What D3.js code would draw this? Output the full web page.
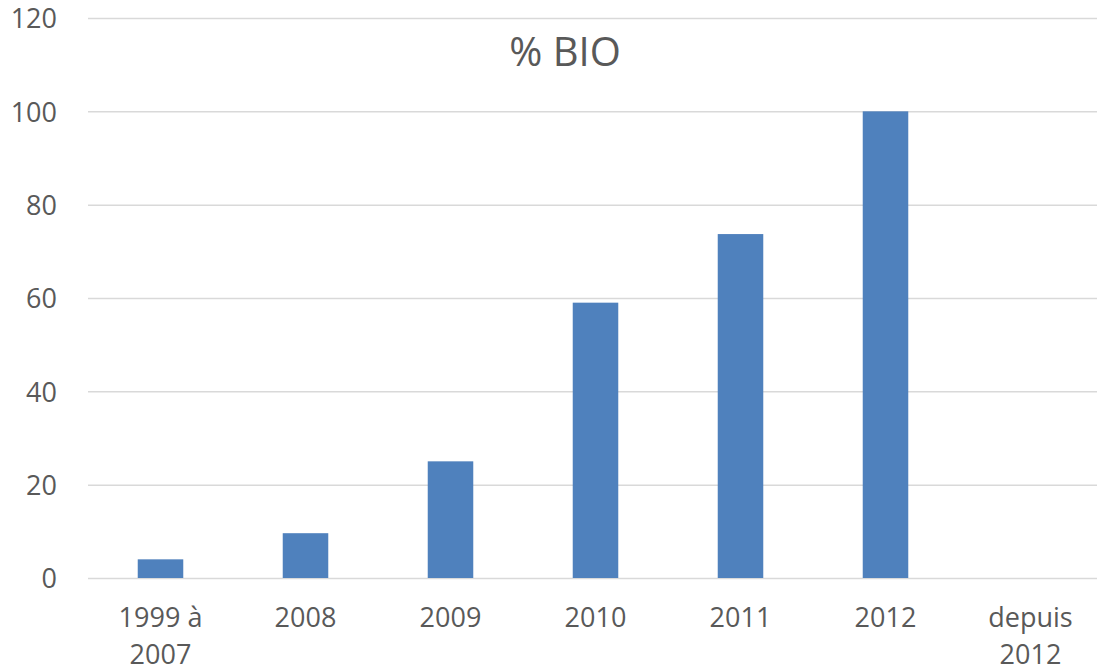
<!DOCTYPE html>
<html><head><meta charset="utf-8">
<script src="https://cdn.jsdelivr.net/npm/d3@7"></script>
<style>body{margin:0;background:#fff}svg{display:block}text{font-family:"Open Sans",sans-serif;fill:#595959}</style>
</head><body><svg id="c" width="1097" height="672"></svg>
<script>
const categories = [["1999 à","2007"],["2008"],["2009"],["2010"],["2011"],["2012"],["depuis","2012"]];
const values = [4, 9.6, 25, 59, 73.7, 100, null];
const yTicks = [0,20,40,60,80,100,120];
const title = "% BIO";

const svg = d3.select("#c");
const keys = categories.map((c,i)=>i);
const x = d3.scaleBand().domain(keys).range([88,1103]).paddingInner(0.686).paddingOuter(0.343);
const y = d3.scaleLinear().domain([0,120]).range([578,18]);

const yAxis = svg.append("g").attr("transform","translate(88,0)")
  .call(d3.axisLeft(y).tickValues(yTicks).tickSize(-1015).tickPadding(31));
yAxis.select(".domain").remove();
yAxis.selectAll(".tick line").attr("stroke","#d9d9d9").attr("stroke-width",1.5);
yAxis.selectAll(".tick text").attr("font-size",27).attr("fill","#595959").attr("dy","0.36em").style("font-family","'Open Sans',sans-serif");

svg.append("g").selectAll("rect").data(values.map((v,i)=>({v,i})).filter(d=>d.v!=null))
  .join("rect").attr("x",d=>x(d.i)).attr("width",x.bandwidth())
  .attr("y",d=>y(d.v)).attr("height",d=>y(0)-y(d.v)).attr("fill","#4f81bd");

const xl = svg.append("g");
categories.forEach((lines,i)=>{
  const t = xl.append("text").attr("text-anchor","middle").attr("font-size",27)
    .attr("x", x(i)+x.bandwidth()/2).attr("y",627);
  lines.forEach((s,j)=>t.append("tspan").attr("x",x(i)+x.bandwidth()/2).attr("y",627+37*j).text(s));
});

svg.append("text").attr("x",565).attr("y",66).attr("text-anchor","middle").attr("font-size",40).text(title);
</script></body></html>
